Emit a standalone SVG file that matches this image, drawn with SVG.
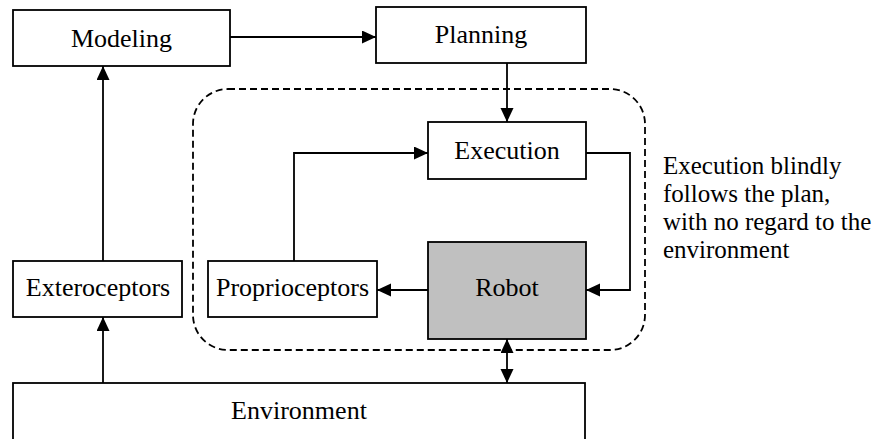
<svg xmlns="http://www.w3.org/2000/svg" width="888" height="439" viewBox="0 0 888 439">
<style>
.box{fill:#fff;stroke:#000;stroke-width:1.8}
.robot{fill:#c0c0c0;stroke:#000;stroke-width:1.8}
.lbl{font-family:"Liberation Serif","Times New Roman",serif;font-size:26px;fill:#000;text-anchor:middle}
.note{font-family:"Liberation Serif","Times New Roman",serif;font-size:25px;fill:#000}
.conn{fill:none;stroke:#000;stroke-width:1.8}
.dash{fill:none;stroke:#000;stroke-width:1.8;stroke-dasharray:7 4}
</style>
<defs>
<marker id="ah" markerUnits="userSpaceOnUse" markerWidth="15" markerHeight="14" refX="14" refY="6.5" orient="auto-start-reverse">
<path d="M0,0 L14,6.5 L0,13 z" fill="#000"/>
</marker>
</defs>
<rect class="dash" x="193" y="89" width="452" height="261" rx="35" ry="35"/>
<g id="modeling"><rect class="box" x="13" y="10" width="217" height="56"/><text class="lbl" x="121.5" y="47">Modeling</text></g>
<g id="planning"><rect class="box" x="376" y="7" width="210" height="56"/><text class="lbl" x="481" y="43">Planning</text></g>
<g id="execution"><rect class="box" x="428" y="122" width="158" height="57"/><text class="lbl" x="507" y="159">Execution</text></g>
<g id="robot"><rect class="robot" x="428" y="242" width="158" height="97"/><text class="lbl" x="507" y="296">Robot</text></g>
<g id="proprioceptors"><rect class="box" x="208" y="261" width="169" height="56"/><text class="lbl" x="292.5" y="296">Proprioceptors</text></g>
<g id="exteroceptors"><rect class="box" x="13" y="261" width="169" height="56"/><text class="lbl" x="98" y="296">Exteroceptors</text></g>
<g id="environment"><rect class="box" x="13" y="383" width="572" height="80"/><text class="lbl" x="299" y="419">Environment</text></g>
<g id="connectors">
<path class="conn" d="M230,37 H376" marker-end="url(#ah)"/>
<path class="conn" d="M507,63 V122" marker-end="url(#ah)"/>
<path class="conn" d="M586,153 H630 V290 H586" marker-end="url(#ah)"/>
<path class="conn" d="M428,290 H377" marker-end="url(#ah)"/>
<path class="conn" d="M294,261 V153 H428" marker-end="url(#ah)"/>
<path class="conn" d="M103,261 V66" marker-end="url(#ah)"/>
<path class="conn" d="M103,383 V317" marker-end="url(#ah)"/>
<path class="conn" d="M507,339 V383" marker-start="url(#ah)" marker-end="url(#ah)"/>
</g>
<g id="note">
<text class="note" x="663" y="174"><tspan x="663" y="174">Execution blindly</tspan><tspan x="663" y="202">follows the plan,</tspan><tspan x="663" y="230">with no regard to the</tspan><tspan x="663" y="258">environment</tspan></text>
</g>
</svg>
